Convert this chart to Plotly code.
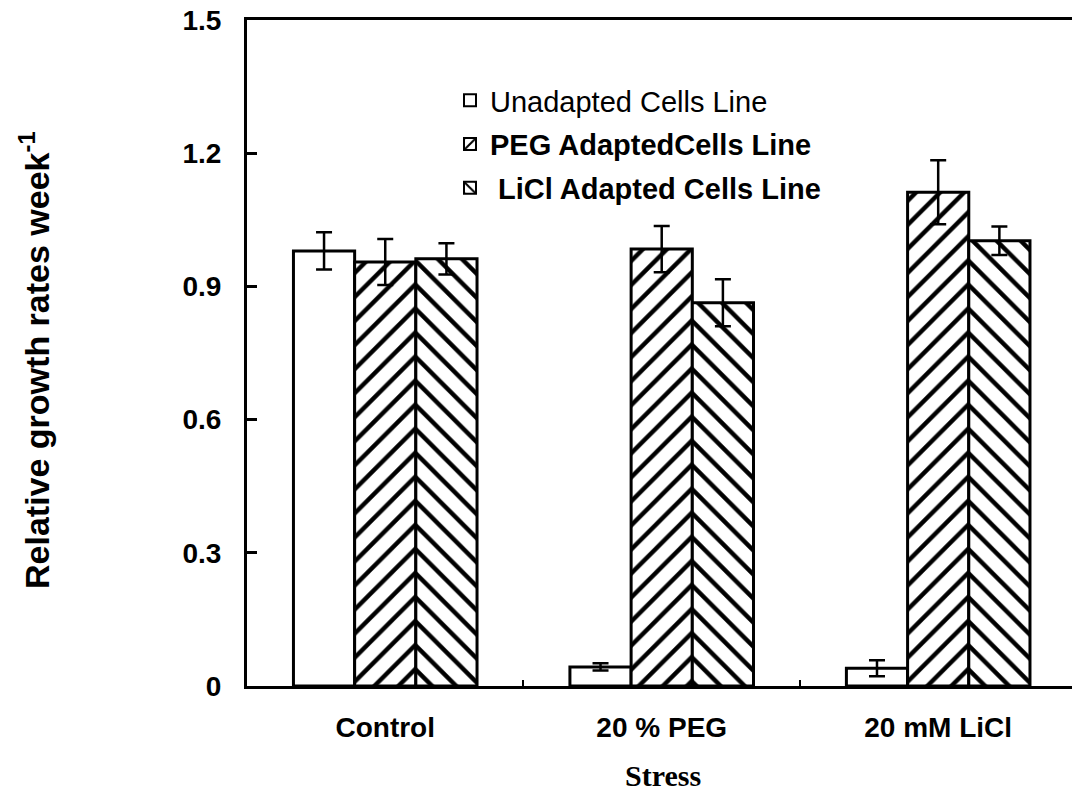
import plotly.graph_objects as go

categories = ["Control", "20 % PEG", "20 mM LiCl"]
series_names = ["Unadapted Cells Line", "<b>PEG AdaptedCells Line</b>", "<b> LiCl Adapted Cells Line</b>"]
unadapted = [0.98, 0.043, 0.04]
unadapted_err = [0.042, 0.008, 0.018]
peg_adapted = [0.955, 0.984, 1.112]
peg_err = [0.052, 0.052, 0.072]
licl_adapted = [0.962, 0.863, 1.003]
licl_err = [0.035, 0.053, 0.032]
y_ticks = [0, 0.3, 0.6, 0.9, 1.2, 1.5]
y_ticktext = ["0", "0.3", "0.6", "0.9", "1.2", "1.5"]

FONT = "Liberation Sans"

fig = go.Figure()
specs = [
    (series_names[0], unadapted, unadapted_err, ""),
    (series_names[1], peg_adapted, peg_err, "/"),
    (series_names[2], licl_adapted, licl_err, "\\"),
]
for i, (name, vals, errs, shape) in enumerate(specs):
    marker = dict(color="white", line=dict(color="black", width=3))
    if shape:
        marker["pattern"] = dict(shape=shape, size=17, solidity=0.26,
                                 fgcolor="black", bgcolor="white", fillmode="replace")
    fig.add_trace(go.Bar(
        x=categories, y=vals, name=name, legendgroup=f"g{i}",
        marker=marker,
        error_y=dict(type="data", array=errs, visible=True, color="black",
                     thickness=2.5, width=8),
    ))

W, H = 1072, 793
L, T, B = 247, 20, 107
PW, PH = W - L, H - T - B

fig.update_layout(
    width=W, height=H,
    margin=dict(l=L, r=0, t=T, b=B, pad=0),
    paper_bgcolor="white", plot_bgcolor="white",
    barmode="group", bargap=0.336, bargroupgap=0,
    showlegend=True,
    legend=dict(x=(450 - L) / PW, y=1 - (75 - T) / PH, xanchor="left", yanchor="top",
                font=dict(family=FONT, size=29, color="black"),
                bgcolor="rgba(0,0,0,0)", tracegroupgap=3,
                itemsizing="constant", itemwidth=30),
    font=dict(family=FONT, color="black"),
    xaxis=dict(range=[-0.5, 2.484], showline=True, linecolor="black", linewidth=3,
               mirror=True, ticks="inside", tickson="boundaries", ticklen=6,
               tickwidth=1.5, tickcolor="black", showgrid=False, zeroline=False,
               tickfont=dict(family=FONT, size=28, color="black"),
               tickprefix="<b>", ticksuffix="</b>", ticklabelstandoff=14),
    yaxis=dict(range=[0, 1.5], tickvals=y_ticks, ticktext=[f"<b>{t}</b>" for t in y_ticktext],
               showline=True, linecolor="black", linewidth=3, mirror=False,
               ticks="inside", ticklen=10, tickwidth=2.5, tickcolor="black",
               showgrid=False, zeroline=False,
               tickfont=dict(family=FONT, size=28, color="black"),
               ticklabelstandoff=17),
    annotations=[
        dict(text="<b>Relative growth rates week<sup>-1</sup></b>", textangle=-90,
             xref="paper", yref="paper", x=(34 - L) / PW, y=(686 - 360) / PH,
             xanchor="center", yanchor="middle", showarrow=False,
             font=dict(family=FONT, size=34, color="black")),
        dict(text="<b>Stress</b>", xref="paper", yref="paper",
             x=(663 - L) / PW, y=-(775 - 686) / PH,
             xanchor="center", yanchor="middle", showarrow=False,
             font=dict(family="Liberation Serif", size=30, color="black")),
    ],
)

fig.write_html("out.html", config={"displayModeBar": False},
               post_script="document.body.style.margin='0px';")
